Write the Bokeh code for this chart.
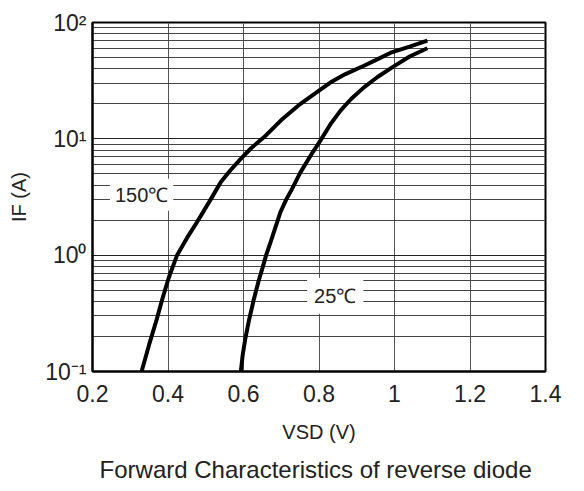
from bokeh.plotting import figure
from bokeh.models import Label, FixedTicker, Title
from bokeh.embed import file_html
from bokeh.resources import INLINE

# ---- data ----
v_150 = [0.33, 0.35, 0.37, 0.385, 0.402, 0.424, 0.45, 0.477, 0.51, 0.54, 0.566, 0.592, 0.62,
         0.654, 0.7, 0.751, 0.8, 0.831, 0.87, 0.919, 0.95, 0.99, 1.04, 1.087]
i_150 = [0.1, 0.17, 0.28, 0.42, 0.64, 1.0, 1.4, 1.93, 2.9, 4.26, 5.4, 6.7, 8.3,
         10.3, 14.5, 20, 26, 30.6, 36, 42.5, 47.5, 55, 62, 70]
v_25 = [0.593, 0.598, 0.605, 0.615, 0.628, 0.64, 0.65, 0.66, 0.672, 0.685, 0.698, 0.713, 0.729,
        0.75, 0.778, 0.804, 0.83, 0.857, 0.885, 0.919, 0.955, 0.998, 1.04, 1.087]
i_25 = [0.1, 0.14, 0.193, 0.28, 0.425, 0.6, 0.77, 1.0, 1.3, 1.75, 2.35, 3.0, 3.73,
        5.1, 7.2, 9.7, 13.3, 17.5, 22, 27.7, 34, 42, 51, 60]
x_ticks = [0.2, 0.4, 0.6, 0.8, 1.0, 1.2, 1.4]
x_tick_labels = ["0.2", "0.4", "0.6", "0.8", "1", "1.2", "1.4"]
y_ticks = [0.1, 1, 10, 100]
y_tick_labels = ["10⁻¹", "10⁰", "10¹", "10²"]
y_minor_ticks = [0.2, 0.3, 0.4, 0.5, 0.6, 0.7, 0.8, 0.9,
                 2, 3, 4, 5, 6, 7, 8, 9,
                 20, 30, 40, 50, 60, 70, 80, 90]

FONT = "Liberation Sans"
TXT = "#222222"

p = figure(width=584, height=491, x_range=(0.2, 1.4), y_range=(0.1, 100),
           y_axis_type="log", output_backend="svg", toolbar_location=None,
           min_border_left=92, min_border_right=39, min_border_top=22,
           min_border_bottom=118)
p.background_fill_color = "white"
p.border_fill_color = "white"
p.outline_line_color = "black"
p.outline_line_width = 2

# axes / tickers
p.xaxis.ticker = FixedTicker(ticks=x_ticks)
p.yaxis.ticker = FixedTicker(ticks=y_ticks, minor_ticks=y_minor_ticks)
for ax in (p.xaxis, p.yaxis):
    ax.axis_line_color = "black"
    ax.axis_line_width = 2
    ax.major_tick_line_color = None
    ax.minor_tick_line_color = None
    ax.major_tick_out = 0
    ax.minor_tick_out = 0
    ax.major_label_text_font = FONT
    ax.major_label_text_font_size = "23px"
    ax.major_label_text_color = TXT
    ax.axis_label_text_font = FONT
    ax.axis_label_text_font_style = "normal"
    ax.axis_label_text_font_size = "20px"
    ax.axis_label_text_color = TXT

# grid
p.xgrid.grid_line_color = "#555555"
p.xgrid.grid_line_width = 1
p.ygrid.grid_line_color = "#222222"
p.ygrid.minor_grid_line_color = "#444444"
p.ygrid.grid_line_width = 1
p.ygrid.minor_grid_line_width = 1

p.xaxis.major_label_overrides = dict(zip(x_ticks, x_tick_labels))
p.xaxis.major_label_standoff = 13
p.xaxis.axis_label = "VSD (V)"
p.xaxis.axis_label_standoff = 16

p.yaxis.major_label_overrides = dict(zip(y_ticks, y_tick_labels))
p.yaxis.major_label_standoff = 6
p.yaxis.axis_label = "IF (A)"
p.yaxis.axis_label_standoff = 12

# caption
p.add_layout(Title(text="Forward  Characteristics of reverse diode", align="center",
                   text_font=FONT, text_font_size="24px", text_font_style="normal",
                   text_color=TXT, standoff=17), "below")

# curves
p.line(v_150, i_150, line_color="black", line_width=4)
p.line(v_25, i_25, line_color="black", line_width=4)

# curve labels
p.add_layout(Label(x=0.33, y=3.31, text="150℃", text_align="center",
                   text_baseline="middle", text_font=FONT, text_font_size="20px",
                   text_color=TXT, background_fill_color="white", padding=5))
p.add_layout(Label(x=0.843, y=0.447, text="25℃", text_align="center",
                   text_baseline="middle", text_font=FONT, text_font_size="20px",
                   text_color=TXT, background_fill_color="white", padding=7))

open("out.html", "w").write(file_html(p, INLINE))
